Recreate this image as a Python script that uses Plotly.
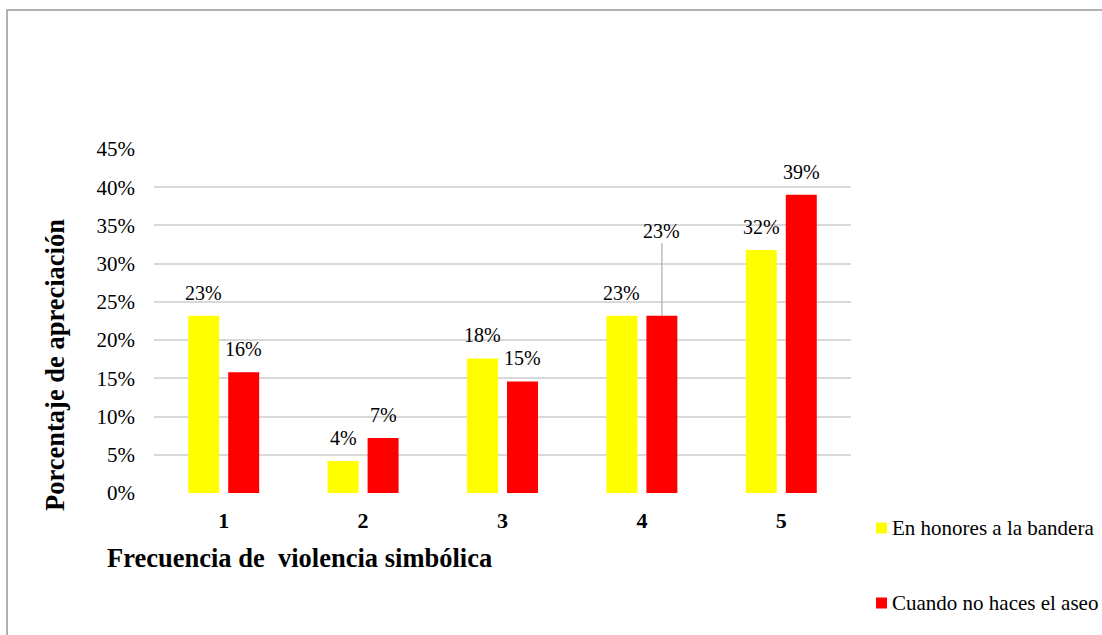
import plotly.graph_objects as go

# Frequency levels and the share of answers for each situation
categories = ["1", "2", "3", "4", "5"]
honores = [0.232, 0.042, 0.176, 0.232, 0.318]
aseo = [0.158, 0.072, 0.146, 0.232, 0.390]
series_names = ["En honores a la bandera", "Cuando no haces el aseo"]
series_colors = ["#FFFF00", "#FF0000"]
y_ticks = [0, 0.05, 0.10, 0.15, 0.20, 0.25, 0.30, 0.35, 0.40, 0.45]

W, H = 1102, 635
ML, MR, MT, MB = 154, 251, 149, 142
PW, PH = W - ML - MR, H - MT - MB


def px(xp):
    return (xp - ML) / PW


def py(yp):
    return (H - MB - yp) / PH


SERIF = "Liberation Serif"

fig = go.Figure()
for name, vals, col in zip(series_names, [honores, aseo], series_colors):
    fig.add_trace(go.Bar(
        x=categories, y=vals, name=name, marker=dict(color=col, line=dict(width=0)),
        showlegend=False, hoverinfo="x+y",
    ))

annotations = []
# value labels above each bar (x given as category index)
for shift, vals in zip([-20, 20], [honores, aseo]):
    for i, (c, v) in enumerate(zip(categories, vals)):
        txt = f"{round(v * 100):d}%"
        if shift > 0 and c == "4":
            annotations.append(dict(
                x=i, y=v, xref="x", yref="y", text=txt, xshift=shift,
                showarrow=True, ax=0, ay=-85, arrowhead=0, arrowwidth=1.3,
                arrowcolor="#b0b0b0", standoff=0, startstandoff=0,
                font=dict(family=SERIF, size=20, color="#000000"),
            ))
        else:
            annotations.append(dict(
                x=i, y=v, xref="x", yref="y", text=txt, xshift=shift, yshift=23,
                showarrow=False, xanchor="center", yanchor="middle",
                font=dict(family=SERIF, size=20, color="#000000"),
            ))

# axis titles
annotations.append(dict(
    x=px(105), y=py(558), xref="paper", yref="paper", xanchor="left", yanchor="middle",
    text="Frecuencia de\u00a0 violencia simbólica", showarrow=False,
    font=dict(family=SERIF, size=26.5, color="#000000", weight="bold"),
))
annotations.append(dict(
    x=px(55), y=py(365), xref="paper", yref="paper", xanchor="center", yanchor="middle",
    text="Porcentaje de apreciación", showarrow=False, textangle=-90,
    font=dict(family=SERIF, size=26.5, color="#000000", weight="bold"),
))

shapes = [
    # outer chart frame
    dict(type="rect", xref="paper", yref="paper", x0=px(7), x1=px(W + 10),
         y0=py(H + 10), y1=py(10), line=dict(color="#999999", width=1.5), layer="below"),
]

# legend entries
for k, (name, col) in enumerate(zip(series_names, series_colors)):
    cy = 528 + 75 * k
    shapes.append(dict(type="rect", xref="paper", yref="paper",
                       x0=px(876), x1=px(887), y0=py(cy + 5.5), y1=py(cy - 5.5),
                       fillcolor=col, line=dict(width=0)))
    annotations.append(dict(
        x=px(890), y=py(cy), xref="paper", yref="paper", xanchor="left", yanchor="middle",
        text=name, showarrow=False, font=dict(family=SERIF, size=21, color="#000000"),
    ))

fig.update_layout(
    width=W, height=H,
    margin=dict(l=ML, r=MR, t=MT, b=MB),
    paper_bgcolor="white", plot_bgcolor="white",
    barmode="group", bargap=0.4265, bargroupgap=0.225,
    annotations=annotations, shapes=shapes,
    showlegend=False,
    xaxis=dict(
        type="category", range=[-0.5, 4.5], showgrid=False, zeroline=False,
        showline=False, ticks="", ticklabelstandoff=12,
        tickfont=dict(family=SERIF, size=22, color="#000000", weight="bold"),
    ),
    yaxis=dict(
        range=[0, 0.45], tickvals=y_ticks, tickformat=".0%",
        showgrid=True, gridcolor="#d9d9d9", gridwidth=1.5,
        zeroline=False, showline=False, ticks="", ticklabelstandoff=18,
        tickfont=dict(family=SERIF, size=21, color="#000000"),
    ),
)

fig.write_html("out.html")
